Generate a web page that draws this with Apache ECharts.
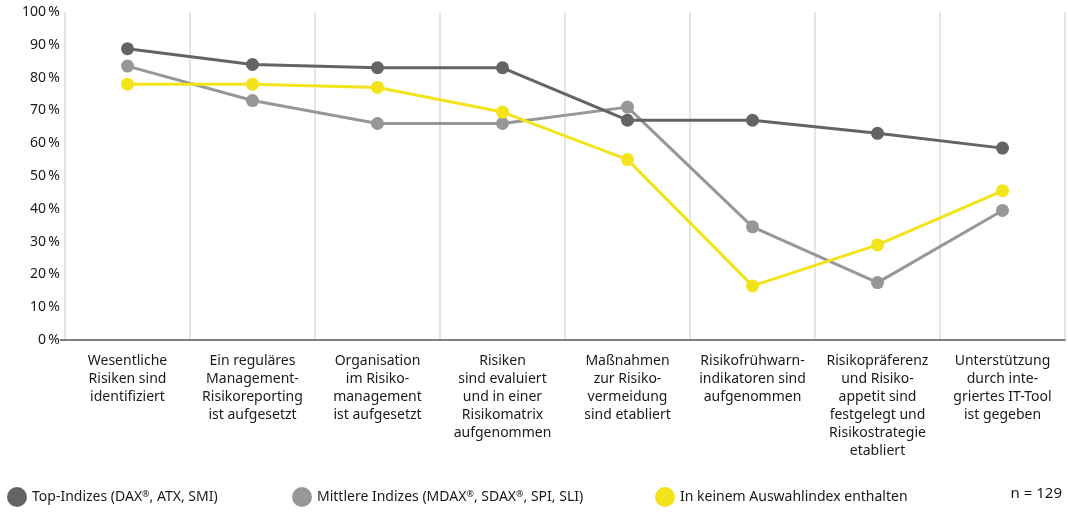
<!DOCTYPE html>
<html><head><meta charset="utf-8">
<script src="https://cdn.jsdelivr.net/npm/echarts@6/dist/echarts.min.js"></script>
<style>html,body{margin:0;padding:0;background:#fff}#c{width:1068px;height:514px}</style>
</head><body><div id="c"></div>
<script>
const categories = [
  "Wesentliche\nRisiken sind\nidentifiziert",
  "Ein reguläres\nManagement-\nRisikoreporting\nist aufgesetzt",
  "Organisation\nim Risiko-\nmanagement\nist aufgesetzt",
  "Risiken\nsind evaluiert\nund in einer\nRisikomatrix\naufgenommen",
  "Maßnahmen\nzur Risiko-\nvermeidung\nsind etabliert",
  "Risikofrühwarn-\nindikatoren sind\naufgenommen",
  "Risikopräferenz\nund Risiko-\nappetit sind\nfestgelegt und\nRisikostrategie\netabliert",
  "Unterstützung\ndurch inte-\ngriertes IT-Tool\nist gegeben"
];
const seriesNames = ["Top-Indizes (DAX®, ATX, SMI)", "Mittlere Indizes (MDAX®, SDAX®, SPI, SLI)", "In keinem Auswahlindex enthalten"];
const topValues = [88.8, 84, 83, 83, 67, 67, 63, 58.5];
const midValues = [83.5, 73, 66, 66, 71, 34.5, 17.5, 39.5];
const noneValues = [78, 78, 77, 69.5, 55, 16.5, 29, 45.5];
const yTicks = [0, 10, 20, 30, 40, 50, 60, 70, 80, 90, 100];
const sampleNote = "n = 129";

const colors = ["#646464", "#979797", "#f2e31b"];
const font = "Noto Sans";
const chart = echarts.init(document.getElementById('c'));
function mkSeries(name, data, color, z) {
  return {
    name: name, type: 'line', data: data, z: z,
    symbol: 'circle', symbolSize: 13, showSymbol: true,
    lineStyle: {color: color, width: 3},
    itemStyle: {color: color},
    emphasis: {disabled: true}, animation: false
  };
}
function mkLegend(name, left) {
  return {
    data: [{name: name, icon: 'circle'}], left: left, top: 482,
    itemWidth: 20, itemHeight: 20, itemGap: 0,
    formatter: n => n.split('®').join('{sup|®}'),
    textStyle: {fontFamily: font, fontSize: 14, color: '#1a1a1a',
      rich: {sup: {fontFamily: font, fontSize: 9, color: '#1a1a1a', verticalAlign: 'top', padding: [0, 0, 6, 0]}}},
    selectedMode: false
  };
}
chart.setOption({
  animation: false,
  color: colors,
  grid: {left: 65, right: 3, top: 12, bottom: 174, containLabel: false},
  legend: [mkLegend(seriesNames[0], 2), mkLegend(seriesNames[1], 287), mkLegend(seriesNames[2], 650)],
  xAxis: {
    type: 'category', data: categories, boundaryGap: true,
    axisLine: {show: true, lineStyle: {color: '#555', width: 1.5}},
    axisTick: {show: false},
    splitLine: {show: true, interval: 0, lineStyle: {color: '#dcdcdc', width: 1.5}},
    axisLabel: {interval: 0, margin: 12, fontFamily: font, fontSize: 14, lineHeight: 18, color: '#1a1a1a', align: 'center', verticalAlign: 'top'}
  },
  yAxis: {
    type: 'value', min: yTicks[0], max: yTicks[yTicks.length - 1], interval: 10,
    axisLine: {show: false}, axisTick: {show: false}, splitLine: {show: false},
    axisLabel: {margin: 5, fontFamily: font, fontSize: 14, color: '#1a1a1a', formatter: v => v + '\u2009%'}
  },
  graphic: [
    {type: 'line', shape: {x1: 60, y1: 340, x2: 66, y2: 340}, style: {stroke: '#555', lineWidth: 1.5}},
    {type: 'text', right: 6, top: 486, style: {text: sampleNote, fontFamily: font, fontSize: 15, fill: '#1a1a1a'}}
  ],
  series: [
    mkSeries(seriesNames[0], topValues, colors[0], 3),
    mkSeries(seriesNames[1], midValues, colors[1], 2),
    mkSeries(seriesNames[2], noneValues, colors[2], 4)
  ]
});
</script></body></html>
